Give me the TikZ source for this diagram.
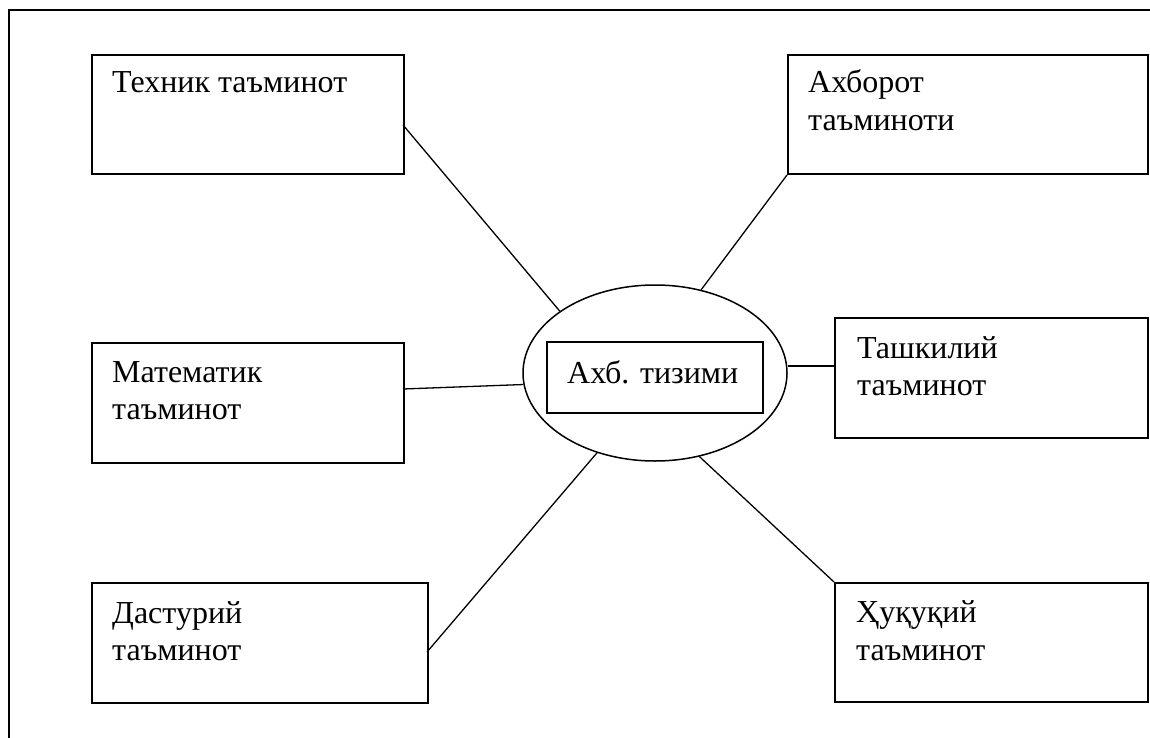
\documentclass[tikz,border=0pt]{standalone}
\usepackage{fontspec}
\setmainfont{Liberation Serif}
\usetikzlibrary{shapes.geometric}
\tikzset{
  box/.style={draw, line width=2pt, rectangle, inner sep=0pt, anchor=north west},
  lbl/.style={anchor=base west, inner sep=0pt, font=\fontsize{32}{38}\selectfont},
  conn/.style={draw, line width=1.3pt},
}
\begin{document}
\begin{tikzpicture}[x=1pt,y=-1pt]
\useasboundingbox (0,0) rectangle (1150,738);
% outer frame (top and left edges)
\draw[line width=2.7pt] (9,738) -- (9,10) -- (1150,10);
% boxes
\node[box, minimum width=312pt, minimum height=119pt] (tech) at (91,54) {};
\node[box, minimum width=360pt, minimum height=119pt] (info) at (787,54) {};
\node[box, minimum width=312pt, minimum height=120pt] (math) at (91,342) {};
\node[box, minimum width=313pt, minimum height=120pt] (org) at (834,317) {};
\node[box, minimum width=336pt, minimum height=120pt] (prog) at (91,582) {};
\node[box, minimum width=313pt, minimum height=119pt] (law) at (834,582) {};
% labels
\node[lbl] (tech1) at (112,93) {Техник таъминот};
\node[lbl] (info1) at (808,93) {Ахборот};
\node[lbl] (info2) at (808,131) {таъминоти};
\node[lbl] (math1) at (112,382) {Математик};
\node[lbl] (math2) at (112,419) {таъминот};
\node[lbl] (org1) at (857,358) {Ташкилий};
\node[lbl] (org2) at (857,395) {таъминот};
\node[lbl] (prog1) at (112,623) {Дастурий};
\node[lbl] (prog2) at (112,660) {таъминот};
\node[lbl] (law1) at (856,622) {Ҳуқуқий};
\node[lbl] (law2) at (856,660) {таъминот};
% centre
\node[draw, ellipse, line width=1.5pt, minimum width=264pt, minimum height=176pt, inner sep=0pt] (sys) at (655,373) {};
\node[draw, line width=2pt, minimum width=216pt, minimum height=71pt, inner sep=0pt] (sysbox) at (655,377.5) {};
\node[lbl] (systxt) at (567,383) {Ахб. тизими};
% connectors
\coordinate (techc) at (403,125);
\coordinate (mathc) at (403,389);
\coordinate (orgc) at (834,366);
\coordinate (progc) at (427,652);
\draw[conn] (techc) -- (sys.147);
\draw[conn] (info.south west) -- (sys.61);
\draw[conn] (mathc) -- (sys.185);
\draw[conn] (sys.east |- orgc) -- (orgc);
\draw[conn] (progc) -- (sys.234);
\draw[conn] (law.north west) -- (sys.298);
\end{tikzpicture}
\end{document}
